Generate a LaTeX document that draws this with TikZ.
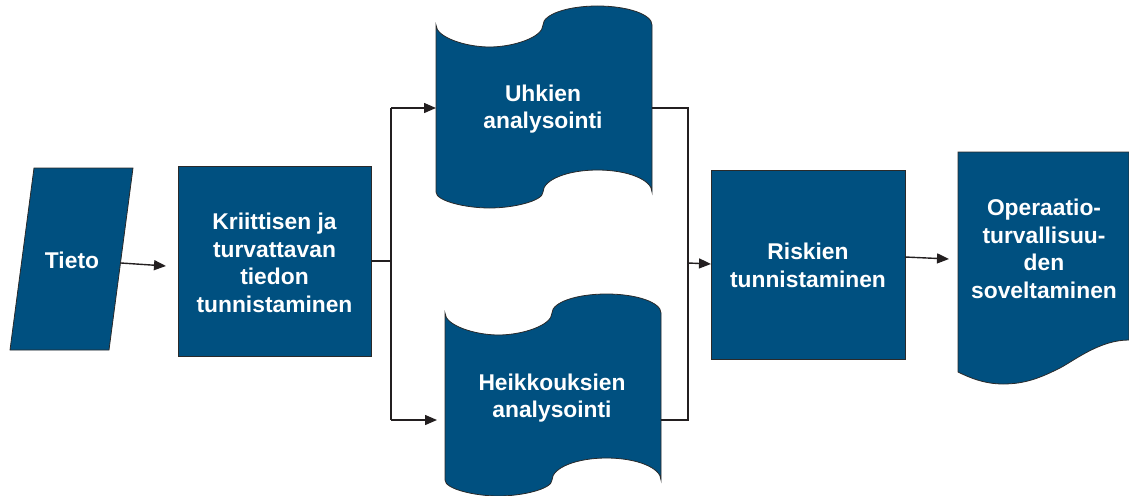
\documentclass[tikz,border=0pt]{standalone}
\usepackage{fontspec}
\setmainfont{Liberation Sans}
\usetikzlibrary{arrows.meta}
\definecolor{fillblue}{HTML}{005080}
\definecolor{edgegray}{HTML}{2A2A2A}
\definecolor{linek}{HTML}{231F20}
\tikzset{
  shapefill/.style={fill=fillblue, draw=edgegray, line width=0.8pt},
  lbl/.style={text=white, font=\fontsize{22.8}{27.6}\selectfont\bfseries, align=center, inner sep=0pt},
  box/.style={shapefill, inner sep=0pt},
  conn/.style={draw=linek, line width=1.4pt},
  arr/.style={conn, -{Triangle[length=12pt,width=10pt]}},
}
\begin{document}
\begin{tikzpicture}[x=1pt,y=-1pt]
\useasboundingbox (0,0) rectangle (1129,495);
% Tieto parallelogram
\path[shapefill] (34,168) -- (133,168) -- (109,350) -- (10,350) -- cycle;
\node[lbl] (tieto) at (72,260) {Tieto};
% Kriittisen box
\node[box, minimum width=193pt, minimum height=190pt] (krit) at (274.5,261) {};
\node[lbl] (krittxt) at (274.5,263) {Kriittisen ja\\turvattavan\\tiedon\\tunnistaminen};
% punched tape shapes
\foreach \dx/\dy in {0/0, 9/288}{
\begin{scope}[shift={(\dx,\dy)}]
\path[shapefill] (436,25) .. controls (436,37.2) and (465.5,47) .. (489.5,47)
  .. controls (513.5,47) and (543,37.2) .. (543,25)
  .. controls (543,14.5) and (567,6) .. (597.5,6)
  .. controls (628,6) and (652,14.5) .. (652,25)
  -- (652,192)
  .. controls (652,180) and (628,170) .. (597.5,170)
  .. controls (567,170) and (543,180) .. (543,192)
  .. controls (543,201) and (513.5,208) .. (489.5,208)
  .. controls (465.5,208) and (436,201) .. (436,192) -- cycle;
\end{scope}}
\node[lbl] (uhk) at (543,109) {Uhkien\\analysointi};
\node[lbl] (heik) at (552,398) {Heikkouksien\\analysointi};
% Riskien box
\node[box, minimum width=194pt, minimum height=189pt] (risk) at (808,264.5) {};
\node[lbl] (risktxt) at (808,265.5) {Riskien\\tunnistaminen};
% document shape
\path[shapefill] (958,152) -- (1129,152) -- (1129,340)
  .. controls (1100,340) and (1075,360) .. (1060,368)
  .. controls (1040,378) and (1025,384) .. (1003,384)
  .. controls (985,384) and (970,378) .. (958,372) -- cycle;
\node[lbl] (oper) at (1044,249) {Operaatio-\\turvallisuu-\\den\\soveltaminen};
% connector coordinates
\coordinate (tietoOut) at (121,263);
\coordinate (kritIn) at (166,266);
\coordinate (split) at (391,261);
\coordinate (splitT) at (391,108);
\coordinate (splitB) at (391,420);
\coordinate (uhkW) at (436,108);
\coordinate (heikW) at (437,420);
\coordinate (uhkE) at (652,108);
\coordinate (heikE) at (661,420);
\coordinate (joinT) at (688,108);
\coordinate (joinB) at (688,420);
\coordinate (join) at (688,263);
\coordinate (riskIn) at (711,264);
\coordinate (riskOut) at (905,257);
\coordinate (operIn) at (949,259);
% connectors
\draw[arr] (tietoOut) -- (kritIn);
\draw[conn] (krit.east |- split) -- (split);
\draw[conn] (splitT) -- (splitB);
\draw[arr] (splitT) -- (uhkW);
\draw[arr] (splitB) -- (heikW);
\draw[conn] (uhkE) -- (joinT) -- (joinB) -- (heikE);
\draw[arr] (join) -- (riskIn);
\draw[arr] (riskOut) -- (operIn);
\end{tikzpicture}
\end{document}
